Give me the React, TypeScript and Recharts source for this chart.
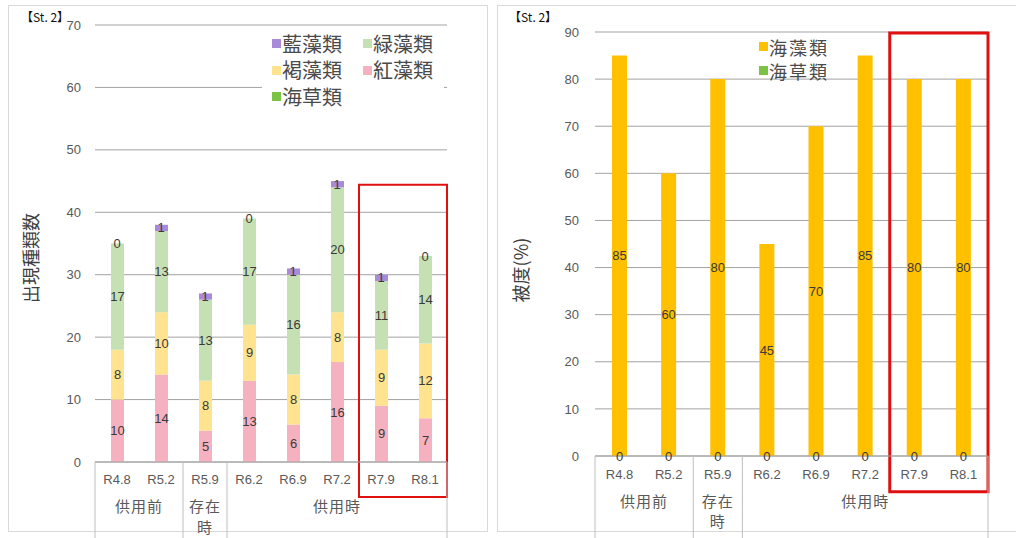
import React from 'react';
import { ComposedChart, Bar, Scatter, XAxis, YAxis, CartesianGrid, LabelList, ReferenceArea } from 'recharts';

// Survey periods (x-axis categories)
const categories = ['R4.8', 'R5.2', 'R5.9', 'R6.2', 'R6.9', 'R7.2', 'R7.9', 'R8.1'];

// Period groups shown under the category labels
const periodGroups = [
  { lines: ['供用前'], start: 0, end: 1 },
  { lines: ['存在', '時'], start: 2, end: 2 },
  { lines: ['供用時'], start: 3, end: 7 },
];

// 出現種類数 by group
const redAlgae = [10, 14, 5, 13, 6, 16, 9, 7];
const brownAlgae = [8, 10, 8, 9, 8, 8, 9, 12];
const greenAlgae = [17, 13, 13, 17, 16, 20, 11, 14];
const blueGreenAlgae = [0, 1, 1, 0, 1, 1, 1, 0];
const seagrassSpecies = [0, 0, 0, 0, 0, 0, 0, 0];

// 被度 (%)
const seaweedCover = [85, 60, 80, 45, 70, 85, 80, 80];
const seagrassCover = [0, 0, 0, 0, 0, 0, 0, 0];

const speciesTicks = [0, 10, 20, 30, 40, 50, 60, 70];
const coverTicks = [0, 10, 20, 30, 40, 50, 60, 70, 80, 90];

// Highlighted recent surveys
const highlightFrom = 'R7.9';
const highlightTo = 'R8.1';
const speciesHighlightRange = [-5.6, 44.4];
const coverHighlightRange = [-7.6, 89.8];

const COLORS = {
  blueGreen: '#a98ad8',
  green: '#c5e0b3',
  brown: '#ffe38f',
  red: '#f5b1bf',
  seagrass: '#7cc245',
  seaweed: '#ffc000',
  grid: '#a3a3a3',
  axisText: '#595959',
  label: '#3a3a3a',
  highlight: '#e01010',
};

const speciesData = categories.map((category, i) => ({
  category,
  red: redAlgae[i],
  brown: brownAlgae[i],
  green: greenAlgae[i],
  blueGreen: blueGreenAlgae[i],
  seagrass: seagrassSpecies[i],
  // middle of the 藍藻類 segment, where its value label sits
  blueGreenMid: redAlgae[i] + brownAlgae[i] + greenAlgae[i] + blueGreenAlgae[i] / 2,
}));

const coverData = categories.map((category, i) => ({
  category,
  seaweed: seaweedCover[i],
  seagrass: seagrassCover[i],
}));

// Value label centred on its bar segment
function SegmentLabel(props: any) {
  const vb = props.viewBox ?? props;
  const x = Number(vb.x ?? 0);
  const y = Number(vb.y ?? 0);
  const w = Number(vb.width ?? 0);
  const h = Number(vb.height ?? 0);
  const value = props.value;
  if (value === undefined || value === null) return null;
  return (
    <text x={x + w / 2} y={y + h / 2} dy="0.35em" textAnchor="middle" fontSize={13} fill={COLORS.label}>
      {value}
    </text>
  );
}

// Text-only point marker: prints the series value at the point
const valueMarker = (key: string) => (props: any) => {
  const { cx, cy, payload } = props;
  if (cx == null || cy == null) return <g />;
  return (
    <text x={cx} y={cy} dy="0.35em" textAnchor="middle" fontSize={13} fill={COLORS.label}>
      {payload[key]}
    </text>
  );
};

type TickOpts = { band: number; labelDy: number; groupDy: number; lineGap: number; depth: number };

function CategoryTick(props: any & TickOpts) {
  const { x, y, payload, band, labelDy, groupDy, lineGap, depth } = props;
  const index = props.index ?? payload?.index ?? 0;
  const last = categories.length - 1;
  const parts: React.ReactNode[] = [];
  parts.push(
    <text key="lbl" x={x} y={y + labelDy} dy="0.35em" textAnchor="middle" fontSize={13} fill={COLORS.axisText}>
      {payload.value}
    </text>
  );
  periodGroups.forEach((g, gi) => {
    if (g.start === index) {
      parts.push(
        <line key={`sep${gi}`} x1={x - band / 2} x2={x - band / 2} y1={y} y2={y + depth} stroke="#bfbfbf" strokeWidth={1} />
      );
      const cx = x + ((g.end - g.start) / 2) * band;
      g.lines.forEach((ln, li) =>
        parts.push(
          <text key={`g${gi}-${li}`} x={cx} y={y + groupDy + li * lineGap} dy="0.35em" textAnchor="middle" fontSize={15} fill={COLORS.axisText} letterSpacing={1}>
            {ln}
          </text>
        )
      );
    }
  });
  if (index === last) {
    parts.push(
      <line key="sepEnd" x1={x + band / 2} x2={x + band / 2} y1={y} y2={y + depth} stroke="#bfbfbf" strokeWidth={1} />
    );
  }
  return <g>{parts}</g>;
}

const FONT = "'Liberation Sans', 'Noto Sans CJK JP', sans-serif";
const CJK = "'Noto Sans CJK JP', sans-serif";

function LegendSwatch({ color, label, size, spacing = 0 }: { color: string; label: string; size: number; spacing?: number }) {
  return (
    <span style={{ display: 'inline-flex', alignItems: 'center' }}>
      <span style={{ display: 'inline-block', width: 9, height: 9, background: color, marginRight: 1 }} />
      <span style={{ fontSize: size, color: '#4a4a4a', fontFamily: CJK, letterSpacing: spacing }}>{label}</span>
    </span>
  );
}

function SpeciesChart() {
  const band = 352 / categories.length;
  return (
    <ComposedChart
      width={490}
      height={538}
      data={speciesData}
      margin={{ top: 25, right: 43, bottom: 0, left: 65 }}
      barSize={13}
    >
      <CartesianGrid vertical={false} stroke={COLORS.grid} />
      <XAxis
        dataKey="category"
        interval={0}
        height={76}
        tickLine={false}
        tickSize={0}
        tickMargin={0}
        axisLine={{ stroke: COLORS.grid }}
        tick={(p: any) => <CategoryTick {...p} band={band} labelDy={17} groupDy={45} lineGap={21} depth={80} />}
      />
      <YAxis
        domain={[0, 70]}
        ticks={speciesTicks}
        width={30}
        axisLine={false}
        tickLine={false}
        tickSize={0}
        tickMargin={14}
        tick={{ fontSize: 13, fill: COLORS.axisText }}
        label={{
          content: () => (
            <text x={32} y={258} transform="rotate(-90 32 258)" textAnchor="middle" dy="0.35em" fontSize={18} fill="#404040" fontFamily={CJK}>
              出現種類数
            </text>
          ),
        }}
      />
      <Bar dataKey="red" stackId="s" fill={COLORS.red} isAnimationActive={false}>
        <LabelList dataKey="red" content={SegmentLabel} />
      </Bar>
      <Bar dataKey="brown" stackId="s" fill={COLORS.brown} isAnimationActive={false}>
        <LabelList dataKey="brown" content={SegmentLabel} />
      </Bar>
      <Bar dataKey="green" stackId="s" fill={COLORS.green} isAnimationActive={false}>
        <LabelList dataKey="green" content={SegmentLabel} />
      </Bar>
      <Bar dataKey="blueGreen" stackId="s" fill={COLORS.blueGreen} isAnimationActive={false} />
      <Bar dataKey="seagrass" stackId="s" fill={COLORS.seagrass} isAnimationActive={false} />
      {/* 藍藻類 value labels, including empty segments */}
      <Scatter dataKey="blueGreenMid" shape={valueMarker('blueGreen')} isAnimationActive={false} legendType="none" />
      <ReferenceArea
        x1={highlightFrom}
        x2={highlightTo}
        y1={speciesHighlightRange[0]}
        y2={speciesHighlightRange[1]}
        ifOverflow="visible"
        fill="none"
        fillOpacity={0}
        stroke={COLORS.highlight}
        strokeWidth={2}
      />
    </ComposedChart>
  );
}

function CoverChart() {
  const band = 393 / categories.length;
  return (
    <ComposedChart
      width={526}
      height={538}
      data={coverData}
      margin={{ top: 32, right: 28, bottom: 0, left: 75 }}
      barSize={15}
    >
      <CartesianGrid vertical={false} stroke={COLORS.grid} />
      <XAxis
        dataKey="category"
        interval={0}
        height={82}
        tickLine={false}
        tickSize={0}
        tickMargin={0}
        axisLine={{ stroke: COLORS.grid }}
        tick={(p: any) => <CategoryTick {...p} band={band} labelDy={18} groupDy={46} lineGap={20} depth={86} />}
      />
      <YAxis
        domain={[0, 90]}
        ticks={coverTicks}
        width={30}
        axisLine={false}
        tickLine={false}
        tickSize={0}
        tickMargin={16}
        tick={{ fontSize: 13, fill: COLORS.axisText }}
        label={{
          content: () => (
            <text x={32} y={270} transform="rotate(-90 32 270)" textAnchor="middle" dy="0.35em" fontSize={18} fill="#404040" fontFamily={CJK}>
              被度(%)
            </text>
          ),
        }}
      />
      <Bar dataKey="seagrass" stackId="c" fill={COLORS.seagrass} isAnimationActive={false} />
      <Bar dataKey="seaweed" stackId="c" fill={COLORS.seaweed} isAnimationActive={false}>
        <LabelList dataKey="seaweed" content={SegmentLabel} />
      </Bar>
      {/* 海草類 value labels at the base of each bar */}
      <Scatter dataKey="seagrass" shape={valueMarker('seagrass')} isAnimationActive={false} legendType="none" />
      <ReferenceArea
        x1={highlightFrom}
        x2={highlightTo}
        y1={coverHighlightRange[0]}
        y2={coverHighlightRange[1]}
        ifOverflow="visible"
        fill="none"
        fillOpacity={0}
        stroke={COLORS.highlight}
        strokeWidth={3}
      />
    </ComposedChart>
  );
}

export default function App() {
  return (
    <div style={{ position: 'absolute', left: 0, top: 0, width: 1016, height: 538, background: '#fff', overflow: 'hidden', fontFamily: FONT }}>
      <div style={{ position: 'absolute', left: 8, top: 5, width: 480, height: 527, border: '1px solid #d9d9d9', boxSizing: 'border-box' }} />
      <div style={{ position: 'absolute', left: 497, top: 5, width: 540, height: 527, border: '1px solid #d9d9d9', boxSizing: 'border-box' }} />

      <div style={{ position: 'absolute', left: 0, top: 0 }}>
        <SpeciesChart />
      </div>
      <div style={{ position: 'absolute', left: 490, top: 0 }}>
        <CoverChart />
      </div>

      <div style={{ position: 'absolute', left: 21, top: 10, fontSize: 12, color: '#111', fontFamily: CJK, lineHeight: '14px' }}>【St. 2】</div>
      <div style={{ position: 'absolute', left: 509, top: 10, fontSize: 12, color: '#111', fontFamily: CJK, lineHeight: '14px' }}>【St. 2】</div>

      {/* legend: 出現種類数 */}
      <div style={{ position: 'absolute', left: 262, top: 30, width: 182, height: 80, background: '#fff' }}>
        <div style={{ position: 'absolute', left: 10, top: 0, lineHeight: '26px' }}>
          <div><LegendSwatch color={COLORS.blueGreen} label="藍藻類" size={20} /></div>
          <div><LegendSwatch color={COLORS.brown} label="褐藻類" size={20} /></div>
          <div><LegendSwatch color={COLORS.seagrass} label="海草類" size={20} /></div>
        </div>
        <div style={{ position: 'absolute', left: 101, top: 0, lineHeight: '26px' }}>
          <div><LegendSwatch color={COLORS.green} label="緑藻類" size={20} /></div>
          <div><LegendSwatch color={COLORS.red} label="紅藻類" size={20} /></div>
        </div>
      </div>

      {/* legend: 被度 */}
      <div style={{ position: 'absolute', left: 759, top: 34, lineHeight: '24px' }}>
        <div style={{ height: 24 }}><LegendSwatch color={COLORS.seaweed} label="海藻類" size={18} spacing={2} /></div>
        <div style={{ height: 24 }}><LegendSwatch color={COLORS.seagrass} label="海草類" size={18} spacing={2} /></div>
      </div>
    </div>
  );
}
